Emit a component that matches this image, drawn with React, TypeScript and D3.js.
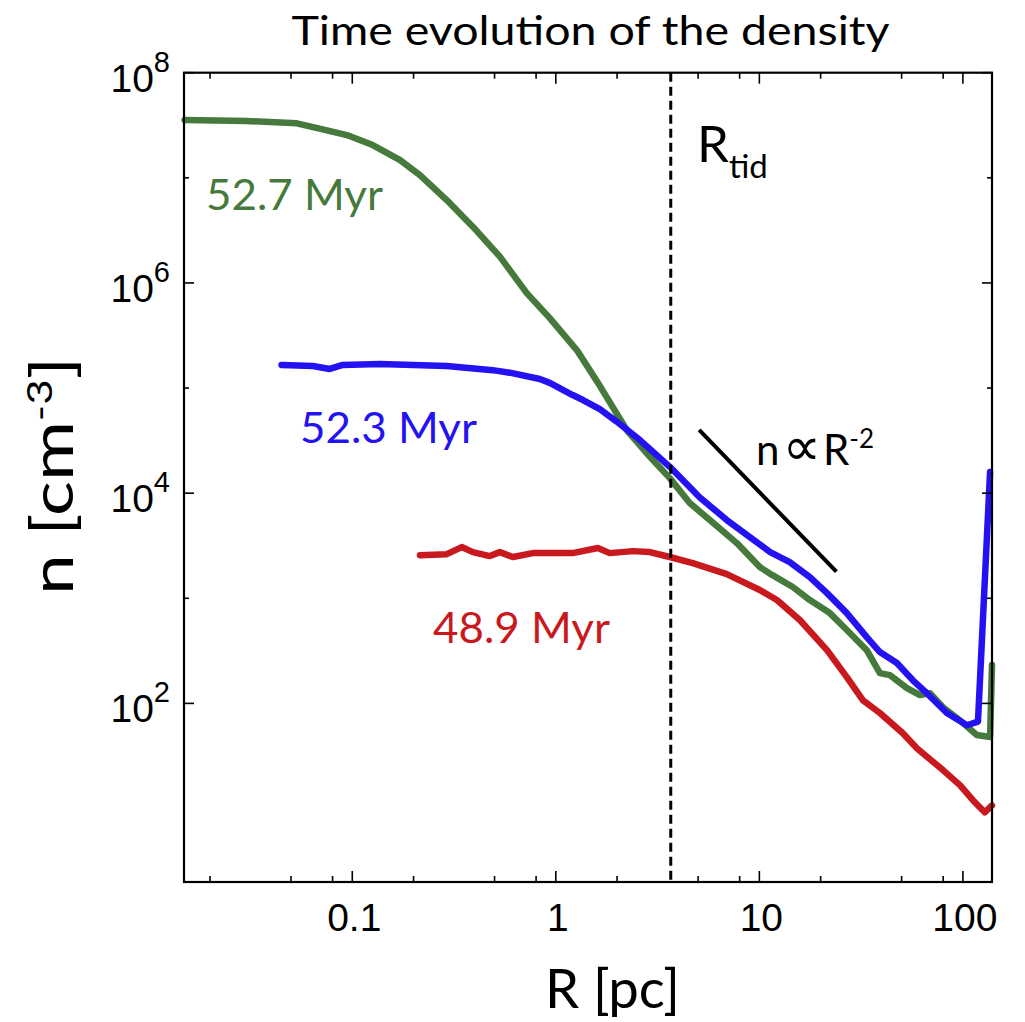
import React from "react";
import * as d3 from "d3";

// ---- data ----
const greenR = [0.015, 0.0303, 0.0534, 0.0716, 0.094, 0.126, 0.171, 0.215, 0.291, 0.391, 0.531, 0.72, 0.934, 1.268, 1.645, 2.23, 2.9, 3.63, 4.55, 5.71, 7.75, 10.05, 11.6, 14.6, 17.7, 22.2, 26.9, 33.7, 39.1, 43.8, 53.1, 61.5, 68.9, 79.8, 96.7, 117, 136, 139];
const greenN = [3.55e7, 3.47e7, 3.3e7, 2.89e7, 2.55e7, 2.05e7, 1.48e7, 1.06e7, 6.15e6, 3.43e6, 1.78e6, 8.0e5, 4.63e5, 2.3e5, 1.05e5, 3.99e4, 2.22e4, 1.39e4, 8.05e3, 5.55e3, 3.35e3, 1.98e3, 1.66e3, 1.28e3, 962, 723, 499, 321, 194, 186, 140, 120, 125, 92, 69, 50, 48, 232];

const blueR = [0.0449, 0.064, 0.0775, 0.0898, 0.1365, 0.291, 0.49, 0.594, 0.834, 0.934, 1.21, 1.36, 1.645, 1.99, 2.59, 3.63, 5.1, 6.92, 8.98, 11.3, 14.1, 17.7, 21.5, 26.9, 33.7, 39.1, 47.4, 56.8, 66.5, 83.4, 104.7, 118.6, 136];
const blueN = [1.66e5, 1.62e5, 1.52e5, 1.66e5, 1.69e5, 1.62e5, 1.48e5, 1.4e5, 1.22e5, 1.12e5, 8.58e4, 7.69e4, 6.3e4, 4.8e4, 3.2e4, 1.78e4, 9.1e3, 5.55e3, 3.82e3, 2.75e3, 2.21e3, 1.59e3, 1.12e3, 723, 427, 308, 242, 166, 125, 81, 62, 67, 1.59e4];

const redR = [0.215, 0.291, 0.345, 0.391, 0.474, 0.531, 0.615, 0.771, 1.21, 1.61, 1.84, 2.39, 2.9, 3.63, 4.71, 6.92, 10.05, 12.2, 15.8, 21.5, 26.9, 32.3, 39.1, 50.7, 59.4, 79.8, 96.7, 112, 128, 139];
const redN = [2.57e3, 2.63e3, 3.07e3, 2.75e3, 2.52e3, 2.75e3, 2.47e3, 2.69e3, 2.69e3, 3.01e3, 2.69e3, 2.81e3, 2.75e3, 2.47e3, 2.16e3, 1.7e3, 1.2e3, 962, 621, 321, 178, 107, 81, 52, 37.5, 23.2, 16.7, 12, 9.2, 10.7];

const slopeR = [5.06, 23.9];
const slopeN = [4.0e4, 1.79e3];

const rTidal = 3.67;

const xMajorTicks = [0.1, 1, 10, 100];
const xMajorLabels = ["0.1", "1", "10", "100"];
const xMinorTicks = [0.02, 0.05, 0.08, 0.2, 0.5, 0.8, 2, 5, 8, 20, 50, 80];
const yMajorTicks = [1e2, 1e4, 1e6, 1e8];
const yMajorExps = ["2", "4", "6", "8"];
const yMinorTicks = [1e3, 1e5, 1e7];

const seriesLabels = ["52.7 Myr", "52.3 Myr", "48.9 Myr"];

export default function App() {
  const W = 1025, H = 1022;
  const L = 184, R = 992, T = 72.7, B = 882;
  const x = d3.scaleLog().domain([0.0149, 139]).range([L, R]);
  const y = d3.scaleLog().domain([2, 1e8]).range([B, T]);

  const mk = (rs: number[], ns: number[]) =>
    d3.line<number>().x((_, i) => x(rs[i])).y((_, i) => y(ns[i]))(rs.map((_, i) => i)) || "";

  const green = "#467a3c";
  const blue = "#2412f2";
  const red = "#c8191e";
  const human = "Lato, 'Open Sans', sans-serif";
  const helv = "'Liberation Sans', Arial, sans-serif";

  return (
    <svg width={W} height={H} style={{ position: "absolute", left: 0, top: 0, background: "#fff" }}>
      <rect x={0} y={0} width={W} height={H} fill="#fff" />
      {/* title */}
      <text x={291.5} y={45} fontFamily={human} fontSize={40} textLength={598} lengthAdjust="spacingAndGlyphs" fill="#000">
        Time evolution of the density
      </text>

      {/* curves */}
      <g fill="none" strokeWidth={6.5} strokeLinejoin="round" strokeLinecap="round">
        <path d={mk(redR, redN)} stroke={red} />
        <path d={mk(greenR, greenN)} stroke={green} />
        <path d={mk(blueR, blueN)} stroke={blue} />
      </g>

      {/* tidal radius */}
      <line x1={x(rTidal)} x2={x(rTidal)} y1={T} y2={B} stroke="#000" strokeWidth={3} strokeDasharray="9,5" />

      {/* power law guide */}
      <path d={mk(slopeR, slopeN)} stroke="#000" strokeWidth={4} fill="none" />

      {/* frame */}
      <rect x={L} y={T} width={R - L} height={B - T} fill="none" stroke="#000" strokeWidth={2.2} />

      {/* ticks */}
      <g stroke="#000" strokeWidth={1.6}>
        {xMajorTicks.map((v) => (
          <g key={"xM" + v}>
            <line x1={x(v)} x2={x(v)} y1={B} y2={B - 11} />
            <line x1={x(v)} x2={x(v)} y1={T} y2={T + 11} />
          </g>
        ))}
        {xMinorTicks.map((v) => (
          <g key={"xm" + v}>
            <line x1={x(v)} x2={x(v)} y1={B} y2={B - 6} />
            <line x1={x(v)} x2={x(v)} y1={T} y2={T + 6} />
          </g>
        ))}
        {yMajorTicks.map((v) => (
          <g key={"yM" + v}>
            <line x1={L} x2={L + 10} y1={y(v)} y2={y(v)} />
            <line x1={R} x2={R - 10} y1={y(v)} y2={y(v)} />
          </g>
        ))}
        {yMinorTicks.map((v) => (
          <g key={"ym" + v}>
            <line x1={L} x2={L + 5} y1={y(v)} y2={y(v)} />
            <line x1={R} x2={R - 5} y1={y(v)} y2={y(v)} />
          </g>
        ))}
      </g>

      {/* x tick labels */}
      {xMajorTicks.map((v, i) => (
        <text key={"xl" + v} x={x(v) + 2} y={931} textAnchor="middle" fontFamily={helv} fontSize={39} fill="#000">
          {xMajorLabels[i]}
        </text>
      ))}
      {/* y tick labels */}
      {yMajorTicks.map((v, i) => (
        <text key={"yl" + v} x={170} y={y(v) + 19} textAnchor="end" fontFamily={helv} fontSize={39} fill="#000">
          10
          <tspan dy={-20} fontSize={29}>{yMajorExps[i]}</tspan>
        </text>
      ))}

      {/* axis titles */}
      <text x={545} y={1008} fontFamily={human} fontSize={54} fill="#000" textLength={135} lengthAdjust="spacingAndGlyphs">
        R [pc]
      </text>
      <text transform="translate(73,595) rotate(-90)" fontFamily={human} fontSize={58} fill="#000" textLength={238} lengthAdjust="spacingAndGlyphs">
        n [cm<tspan dy={-21} fontSize={35}>-3</tspan><tspan dy={21}>]</tspan>
      </text>

      {/* series labels */}
      <text x={206} y={210} fontFamily={human} fontSize={42} fill={green} textLength={177} lengthAdjust="spacingAndGlyphs">
        {seriesLabels[0]}
      </text>
      <text x={300} y={443} fontFamily={human} fontSize={42} fill={blue} textLength={177} lengthAdjust="spacingAndGlyphs">
        {seriesLabels[1]}
      </text>
      <text x={433} y={643} fontFamily={human} fontSize={42} fill={red} textLength={177} lengthAdjust="spacingAndGlyphs">
        {seriesLabels[2]}
      </text>

      {/* annotations */}
      <text x={697} y={162} fontFamily={human} fontSize={51} fill="#000">
        R<tspan dy={16} fontSize={33}>tid</tspan>
      </text>
      <text x={756} y={465} fontFamily={human} fontSize={42} fill="#000">
        n<tspan dx={3} fontFamily="'DejaVu Sans', sans-serif" fontSize={54}>∝</tspan>
        <tspan dx={2}>R</tspan>
        <tspan dy={-17} fontSize={26}>-2</tspan>
      </text>
    </svg>
  );
}
